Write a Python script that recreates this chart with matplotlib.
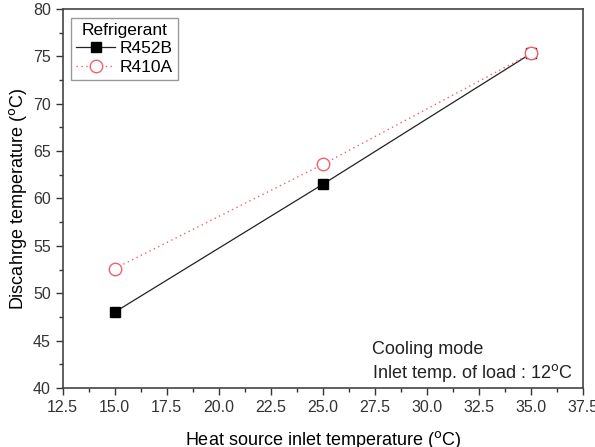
import numpy as np
import matplotlib
matplotlib.use('Agg')
import matplotlib.pyplot as plt
from matplotlib.ticker import MultipleLocator

plt.rcParams['font.family'] = ['Liberation Sans', 'DejaVu Sans']

# datos
temp_fuente = [15.0, 25.0, 35.0]
descarga_r452b = [48.0, 61.5, 75.3]
descarga_r410a = [52.6, 63.6, 75.3]

fig = plt.figure(figsize=(5.95, 4.47), dpi=100)
ax = fig.add_axes([0.1052, 0.132, 0.8748, 0.848])

ax.plot(temp_fuente, descarga_r452b, color='#222222', linewidth=0.9, marker='s',
        markersize=7.5, markerfacecolor='black', markeredgecolor='black', label='R452B')
ax.plot(temp_fuente, descarga_r410a, color='#f06070', linewidth=1.0, linestyle=(0, (1, 2.5)),
        marker='o', markersize=9, markerfacecolor='white', markeredgecolor='#f06070',
        label='R410A')

ax.set_xlim(12.5, 37.5)
ax.set_ylim(40, 80)
ax.xaxis.set_major_locator(MultipleLocator(2.5))
ax.xaxis.set_minor_locator(MultipleLocator(1.25))
ax.yaxis.set_major_locator(MultipleLocator(5))
ax.yaxis.set_minor_locator(MultipleLocator(2.5))
ax.xaxis.set_major_formatter(matplotlib.ticker.FormatStrFormatter('%.1f'))
ax.tick_params(which='major', direction='out', length=5, width=1, labelsize=11.5, colors='#333333')
ax.tick_params(which='minor', direction='out', length=3, width=1, colors='#333333')
for lado in ax.spines.values():
    lado.set_color('#444444')
    lado.set_linewidth(1.2)

ax.set_xlabel('Heat source inlet temperature ($^{\\mathrm{o}}$C)', fontsize=13, labelpad=10)
ax.set_ylabel('Discahrge temperature ($^{\\mathrm{o}}$C)', fontsize=13, labelpad=3)

ax.legend(loc='upper left', title='Refrigerant', fontsize=12.5, title_fontsize=12.5,
          fancybox=False, edgecolor='#999999', framealpha=1, handlelength=2.2,
          handletextpad=0.3, borderpad=0.3, labelspacing=0.2, borderaxespad=0.5)

ax.text(0.595, 0.09, 'Cooling mode', transform=ax.transAxes, fontsize=13, color='#222222')
ax.text(0.595, 0.026, 'Inlet temp. of load : 12$^{\\mathrm{o}}$C', transform=ax.transAxes,
        fontsize=13, color='#222222')

plt.savefig('out.png', dpi=100)
